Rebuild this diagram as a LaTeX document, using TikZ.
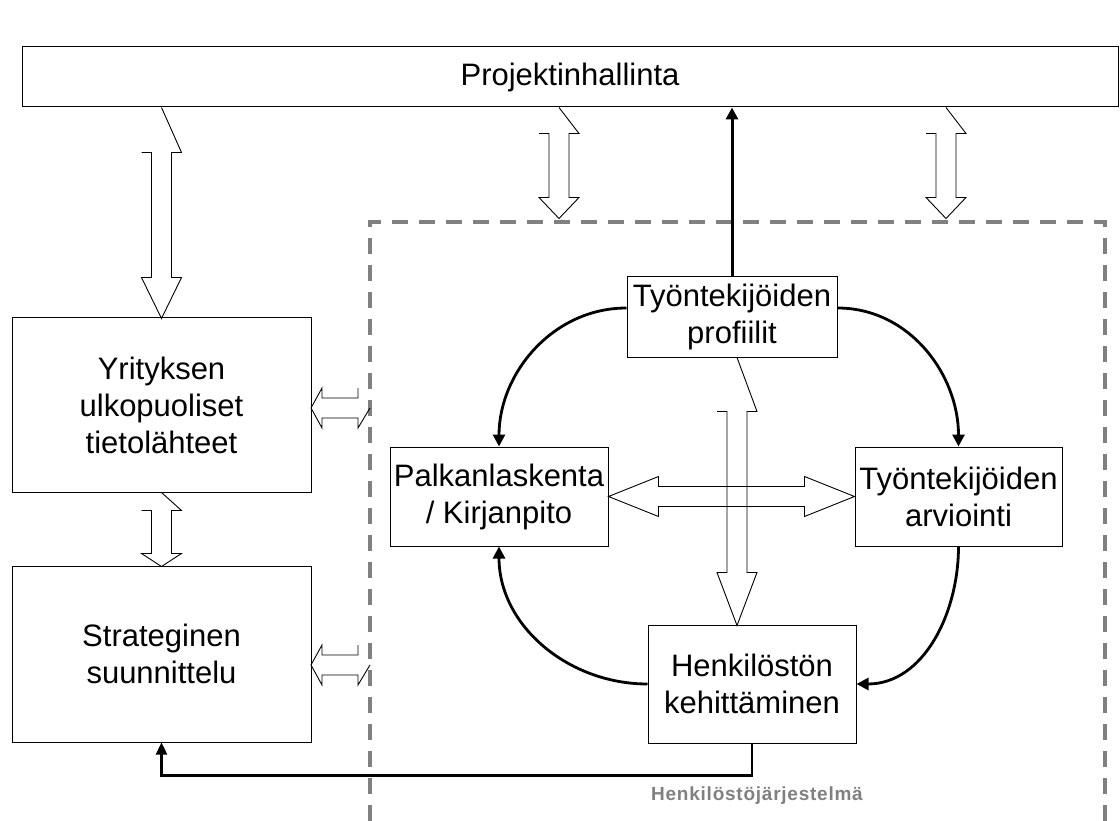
\documentclass[tikz,border=0pt]{standalone}
\usepackage{fontspec}
\setmainfont{Liberation Sans}
\usetikzlibrary{arrows.meta}

% open block arrow: start on the source, rotation, length, slant, head
\newcommand{\zigarrow}[5]{%
    \draw [blockarrow, shift={#1}, rotate=#2]
        (-20,#4) -- (-10,#4) -- (-10,{#3-#5}) -- (-20,{#3-#5}) -- (0,#3)
        -- (20,{#3-#5}) -- (10,{#3-#5}) -- (10,#4) -- (20,#4) -- (0,0);
}

\begin{document}
\begin{tikzpicture}
[
    x=1pt, y=-1pt,
    box/.style={draw, line width=1pt, align=center, inner sep=0pt,
        font=\fontsize{31}{37}\selectfont},
    blockarrow/.style={draw, line width=0.9pt},
    flow/.style={line width=2.8pt, -{Triangle[length=12pt,width=12pt]}},
    frame/.style={draw=gray, line width=4pt, dash pattern=on 16pt off 11pt}
]
    \useasboundingbox (0,0) rectangle (1120,821);

    % frame of the personnel system
    \coordinate (ftl) at (370,222);
    \coordinate (ftr) at (1105,222);
    \draw [frame] (ftl |- 0,821) -- (ftl) -- (ftr) -- (ftr |- 0,821);
    \node [font=\fontsize{19}{21}\selectfont\bfseries\addfontfeature{LetterSpace=4}, text=gray]
        (hjs) at (757,796) {Henkilöstöjärjestelmä};

    \node [box, minimum width=1096pt, minimum height=60pt] (proj) at (570,77) {Projektinhallinta};
    \node [box, minimum width=299pt, minimum height=174pt] (yrit) at (161.5,405) {Yrityksen\\ulkopuoliset\\tietolähteet};
    \node [box, minimum width=299pt, minimum height=176pt] (strat) at (161.5,654) {Strateginen\\suunnittelu};
    \node [box, minimum width=210pt, minimum height=80pt] (prof) at (732,317) {Työntekijöiden\\profiilit};
    \node [box, minimum width=218pt, minimum height=99pt] (palk) at (499,496.5) {Palkanlaskenta\\/ Kirjanpito};
    \node [box, minimum width=207pt, minimum height=99pt] (arv) at (958.5,496.5) {Työntekijöiden\\arviointi};
    \node [box, minimum width=208pt, minimum height=118pt] (keh) at (752,684) {Henkilöstön\\kehittäminen};

    % block arrows
    \zigarrow{(proj.south -| yrit.north)}{0}{211}{45}{41}
    \zigarrow{(559,0 |- proj.south)}{0}{111}{26}{21}
    \zigarrow{(946,0 |- proj.south)}{0}{111}{26}{21}
    \zigarrow{(yrit.south)}{0}{74}{18}{13}
    \zigarrow{(737,0 |- prof.south)}{0}{268}{54}{53}
    \coordinate (fy) at (370,408);
    \coordinate (fs) at (370,665);
    \zigarrow{(fy)}{-90}{59}{12}{11}
    \zigarrow{(fs)}{-90}{59}{12}{11}
    \draw [blockarrow] (palk.east) -- ++(50,-20) -- ++(0,10)
        -- ([xshift=-50pt,yshift=10pt]arv.west) -- ++(0,-10) -- (arv.west)
        -- ++(-50,20) -- ++(0,-10) -- ([xshift=50pt,yshift=-10pt]palk.east)
        -- ++(0,10) -- cycle;

    % flows
    \draw [flow] ([yshift=9pt]prof.west) to [out=180, in=90] (palk.north);
    \draw [flow] ([yshift=9pt]prof.east) to [out=0, in=90] (arv.north);
    \draw [flow] (keh.west) to [out=180, in=-90] (palk.south);
    \draw [flow] (arv.south) to [out=-90, in=0] (keh.east);
    \draw [line width=3pt, -{Triangle[length=12pt,width=12pt]}] (prof.north) -- (prof.north |- proj.south);
    \draw [line width=2.4pt, -{Triangle[length=12pt,width=11pt]}] (keh.south) -- ++(0,32) -| (strat.south);
\end{tikzpicture}
\end{document}
